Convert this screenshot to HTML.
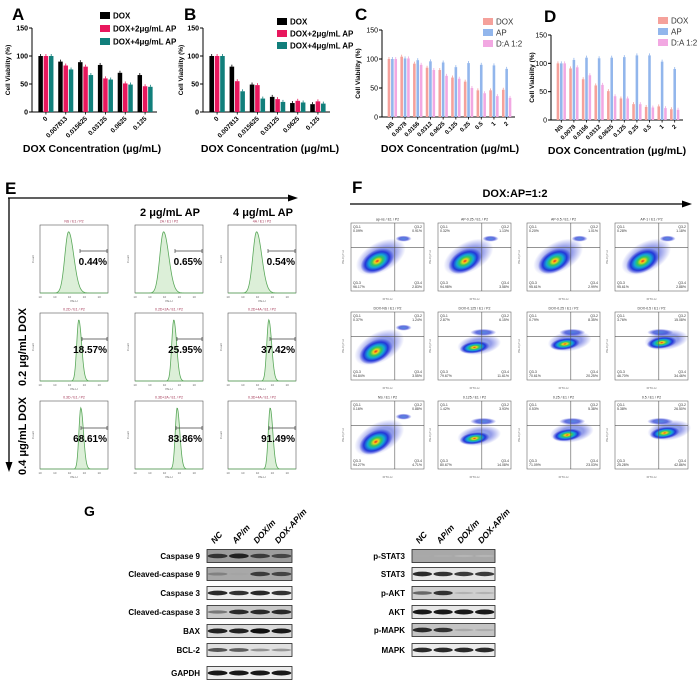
<!DOCTYPE html>
<html><head><meta charset="utf-8"><style>
html,body{margin:0;padding:0;background:#fff}
svg{display:block;font-family:"Liberation Sans",sans-serif}
</style></head><body>
<svg id="fig" width="700" height="685" viewBox="0 0 700 685" xmlns="http://www.w3.org/2000/svg"></svg>
<script>
// ---- data ----
const catsAB = ["0","0.007813","0.015625","0.03125","0.0625","0.125"];
const seriesAB = ["DOX","DOX+2μg/mL AP","DOX+4μg/mL AP"];
const aDox = [100,90,89,84,70,66];
const aAp2 = [100,83,81,60,51,46];
const aAp4 = [100,76,66,58,49,45];
const bDox = [100,81,49,27,16,14];
const bAp2 = [100,55,48,23,20,19];
const bAp4 = [100,37,24,18,17,15];
const catsCD = ["NS","0.0078","0.0156","0.0312","0.0625","0.125","0.25","0.5","1","2"];
const seriesCD = ["DOX","AP","D:A 1:2"];
const cDox = [100,104,92,85,81,68,61,46,46,47];
const cAp = [100,101,98,96,94,86,93,90,89,83];
const cDA = [100,101,90,81,71,66,50,41,36,33];
const dDox = [100,91,72,61,51,38,28,23,24,19];
const dAp = [100,106,110,109,110,111,114,114,103,90];
const dDA = [100,93,79,62,42,38,28,22,21,18];
const yTicks = [0,50,100,150];
const histPct = [["0.44%","0.65%","0.54%"],["18.57%","25.95%","37.42%"],["68.61%","83.86%","91.49%"]];
const histTitles = [["NS / E1 / P2","2A / E1 / P2","4A / E1 / P2"],["0.2D / E1 / P2","0.2D+2A / E1 / P2","0.2D+4A / E1 / P2"],["0.3D / E1 / P2","0.3D+2A / E1 / P2","0.3D+4A / E1 / P2"]];
const histPeak = [[0.42,0.42,0.42],[0.57,0.57,0.6],[0.6,0.62,0.62]];
const histSig = [[0.055,0.055,0.055],[0.03,0.03,0.03],[0.028,0.028,0.028]];
const flowTitles = [["ap-ns / E1 / P2","AP-0.25 / E1 / P2","AP-0.5 / E1 / P2","AP-1 / E1 / P2"],["DOX-NS / E1 / P2","DOX-0.125 / E1 / P2","DOX-0.25 / E1 / P2","DOX-0.5 / E1 / P2"],["NS / E1 / P2","0.125 / E1 / P2","0.25 / E1 / P2","0.5 / E1 / P2"]];
const flowQ = [[["0.09%","0.91%","96.17%","2.83%"],["0.32%","1.13%","94.98%","3.58%"],["0.20%","1.01%","95.61%","2.99%"],["0.28%","1.18%","95.61%","2.88%"]],
 [["0.37%","1.24%","94.84%","3.55%"],["2.87%","6.15%","79.67%","11.61%"],["0.79%","8.35%","70.61%","20.25%"],["3.76%","15.08%","46.70%","34.46%"]],
 [["0.16%","0.88%","94.27%","4.71%"],["1.42%","3.93%","80.67%","14.08%"],["0.53%","5.38%","71.09%","23.03%"],["5.38%","26.50%","25.28%","42.86%"]]];
const flowBlobX = [[0.36,0.37,0.38,0.38],[0.34,0.5,0.52,0.64],[0.34,0.5,0.55,0.68]];
const flowBlobY = [[0.56,0.56,0.56,0.56],[0.58,0.52,0.47,0.45],[0.6,0.55,0.5,0.47]];
const blotLeft = ["Caspase 9","Cleaved-caspase 9","Caspase 3","Cleaved-caspase 3","BAX","BCL-2","GAPDH"];
const blotRight = ["p-STAT3","STAT3","p-AKT","AKT","p-MAPK","MAPK"];
const lanes = ["NC","AP/m","DOX/m","DOX-AP/m"];
const intLeft = [[0.8,0.9,0.75,0.7],[0.35,0.15,0.75,0.7],[0.85,0.8,0.85,0.8],[0.4,0.85,0.85,0.85],[0.9,0.9,1,0.95],[0.6,0.55,0.25,0.22],[0.95,0.95,0.95,0.95]];
const intRight = [[0.12,0.1,0.05,0.05],[0.85,0.8,0.75,0.75],[0.5,0.8,0.07,0.07],[0.95,0.95,0.95,0.95],[0.85,0.8,0.12,0.1],[0.85,0.85,0.85,0.85]];
const bgLeft = ["#9c9c9c","#a8a8a8","#ededed","#c8c8c8","#dadada","#e0e0e0","#ececec"];
const bgRight = ["#a8a8a8","#e6e6e6","#cfcfcf","#e6e6e6","#c4c4c4","#ececec"];

// ---- helpers ----
const NS = "http://www.w3.org/2000/svg";
const svg = document.getElementById("fig");
function mk(tag, attrs, parent){
  const e = document.createElementNS(NS, tag);
  for (const k in attrs) e.setAttribute(k, attrs[k]);
  (parent||svg).appendChild(e);
  return e;
}
function txt(s, attrs, parent){ const e = mk("text", attrs, parent); e.textContent = s; return e; }

function letter(s, x, y, size){
  const t = txt(s, {x:x, y:y, "font-size":size||17, "font-weight":"bold"});
  
  
}

function barChart(id, cfg){
  const g = mk("g", {});
  
  
  const {x0,x1,yT,yB,cats,series,colors,names,bold,fs} = cfg;
  const yS = v => yB - v/150*(yB-yT);
  const gw = (x1-x0-6)/cats.length;
  const xC = i => x0 + 4 + gw*(i+0.5);
  const bw = gw*0.8/series.length;
  const ax = mk("path", {d:`M${x0},${yT} L${x0},${yB} L${x1},${yB}`, fill:"none", stroke:"#000", "stroke-width":1}, g);
  
  
  yTicks.forEach(v=>{
    const y = yS(v);
    mk("line",{x1:x0-3,x2:x0,y1:y,y2:y,stroke:"#000","stroke-width":1},g);
    const t = txt(String(v), {x:x0-4, y:y+2.5, "font-size":7, "text-anchor":"end", "font-weight":bold?"bold":"normal"}, g);
    
    
  });
  cats.forEach((c,i)=>{
    const x = xC(i);
    mk("line",{x1:x,x2:x,y1:yB,y2:yB+2.5,stroke:"#000","stroke-width":0.8},g);
    const t = txt(c, {x:x+2, y:yB+7, "font-size":fs, "text-anchor":"end", "font-weight":"bold", transform:`rotate(-45 ${x+2} ${yB+7})`}, g);
    
    
  });
  series.forEach((arr,s)=>{
    arr.forEach((v,i)=>{
      const bx = xC(i) - gw*0.4 + s*bw;
      const r = mk("rect",{x:bx+0.4, y:yS(v), width:bw-0.8, height:yB-yS(v), fill:colors[s]}, g);
      
      
      const e = mk("line",{x1:bx+bw/2,x2:bx+bw/2,y1:yS(v)-2,y2:yS(v),stroke:colors[s],"stroke-width":0.8},g);
      
      
    });
  });
  names.forEach((n,s)=>{
    const ly = cfg.ly[s];
    const r = mk("rect",{x:cfg.lx, y:ly-4, width:10, height:7, fill:colors[s]}, g);
    
    
    const t = txt(n,{x:cfg.lx+13, y:ly+2.5, "font-size":8, "font-weight":bold?"bold":"normal", fill:bold?"#000":"#333"}, g);
    
    
  });
  const yt = txt("Cell Viability (%)", {x:cfg.yx, y:(yT+yB)/2, "font-size":6.5, "font-weight":"bold", "text-anchor":"middle", transform:`rotate(-90 ${cfg.yx} ${(yT+yB)/2})`}, g);
  
  
  const xt = txt("DOX Concentration (μg/mL)", {x:cfg.tx, y:cfg.ty, "font-size":10.5, "font-weight":"bold", "text-anchor":"middle"}, g);
  
  
}

// ---- panels A-D ----
letter("A", 12, 20); letter("B", 184, 20); letter("C", 355, 20); letter("D", 544, 22);
const c1 = ["#000","#e8175d","#117f7b"];
const c2 = ["#f5a19b","#92b6ec","#f2a8e2"];
barChart("panel-a",{x0:32,x1:157,yT:28,yB:112,cats:catsAB,series:[aDox,aAp2,aAp4],colors:c1,names:seriesAB,bold:true,fs:6.5,lx:100,ly:[16,29,42],yx:10,tx:92,ty:152});
barChart("panel-b",{x0:203,x1:330,yT:28,yB:112,cats:catsAB,series:[bDox,bAp2,bAp4],colors:c1,names:seriesAB,bold:true,fs:6.5,lx:277,ly:[22,34,46],yx:183,tx:270,ty:152});
barChart("panel-c",{x0:382,x1:515,yT:30,yB:117,cats:catsCD,series:[cDox,cAp,cDA],colors:c2,names:seriesCD,bold:false,fs:6,lx:483,ly:[22,33,44],yx:360,tx:450,ty:152});
barChart("panel-d",{x0:551,x1:683,yT:35,yB:120,cats:catsCD,series:[dDox,dAp,dDA],colors:c2,names:seriesCD,bold:false,fs:6,lx:658,ly:[21,32,43],yx:534,tx:617,ty:154});

// ---- arrows ----
function arrow(x1,y1,x2,y2,name){
  const g = mk("g",{});
  
  
  mk("line",{x1:x1,y1:y1,x2:x2,y2:y2,stroke:"#000","stroke-width":1.3},g);
  const horiz = y1===y2;
  const p = horiz ? `${x2+6},${y2} ${x2-4},${y2-3.5} ${x2-4},${y2+3.5}` : `${x2},${y2+6} ${x2-3.5},${y2-4} ${x2+3.5},${y2-4}`;
  mk("polygon",{points:p, fill:"#000"},g);
}

// ---- panel E ----
letter("E", 5, 194);
arrow(8,198,292,198,"panel-e-horizontal-arrow");
arrow(9,198,9,466,"panel-e-vertical-arrow");
[["2 μg/mL AP",170],["4 μg/mL AP",263]].forEach(([s,x])=>{
  const t = txt(s,{x:x,y:216,"font-size":11,"font-weight":"bold","text-anchor":"middle"});
  
  
});
[["0.2 μg/mL DOX",347],["0.4 μg/mL DOX",436]].forEach(([s,y])=>{
  const t = txt(s,{x:26,y:y,"font-size":11,"font-weight":"bold","text-anchor":"middle",transform:`rotate(-90 26 ${y})`});
  
  
});
const eCols = [40,135,228], eRows = [225,313,401], eW = 68, eH = 68;
for (let r=0;r<3;r++) for (let c=0;c<3;c++){
  const x0 = eCols[c], y0 = eRows[r];
  const g = mk("g",{});
  
  
  mk("rect",{x:x0,y:y0,width:eW,height:eH,fill:"none",stroke:"#555","stroke-width":0.6},g);
  const tt = txt(histTitles[r][c],{x:x0+eW/2,y:y0-2.5,"font-size":3.5,"text-anchor":"middle",fill:"#a03050"},g);
  
  
  let d = `M${x0},${y0+eH}`;
  const pk = histPeak[r][c], sg = histSig[r][c];
  for (let k=0;k<=120;k++){
    const u = k/120;
    const z = (u-pk)/(u<pk?sg:sg*1.4);
    const y = y0+eH - (eH*0.9)*Math.exp(-z*z/2);
    d += ` L${(x0+u*eW).toFixed(2)},${y.toFixed(2)}`;
  }
  d += ` L${x0+eW},${y0+eH} Z`;
  const p = mk("path",{d:d,fill:"#dcefd8",stroke:"#5aa85a","stroke-width":0.8},g);
  
  
  const gy = y0 + [26,26,27][r], gx1 = x0 + [40,42,41][r], gx2 = x0+eW-1;
  mk("path",{d:`M${gx1},${gy-2} V${gy+2} M${gx1},${gy} H${gx2} M${gx2},${gy-2} V${gy+2}`,stroke:"#444","stroke-width":0.7,fill:"none"},g);
  const pt = txt(histPct[r][c],{x:x0+eW-1,y:gy+14,"font-size":10,"font-weight":"bold","text-anchor":"end"},g);
  
  
  [0,1,2,3,4].forEach(k=>{ txt("10",{x:x0+k*eW/4.6,y:y0+eH+5,"font-size":3,"text-anchor":"middle",fill:"#666"},g); });
  txt("PE-H",{x:x0+eW/2,y:y0+eH+9,"font-size":3,"text-anchor":"middle",fill:"#666"},g);
  txt("Count",{x:x0-6,y:y0+eH/2,"font-size":3,"text-anchor":"middle",fill:"#666",transform:`rotate(-90 ${x0-6} ${y0+eH/2})`},g);
}

// ---- panel F ----
letter("F", 352, 193);
const ft = txt("DOX:AP=1:2",{x:515,y:197,"font-size":11,"font-weight":"bold","text-anchor":"middle"});


arrow(350,204,686,204,"panel-f-arrow");
const defs = mk("defs",{});
const rg = mk("radialGradient",{id:"dens"},defs);
[["0","#e8261c"],["0.15","#f6d21a"],["0.32","#34c85a"],["0.5","#14a6d8"],["0.72","#2236d8"],["1","rgba(40,50,220,0)"]].forEach(([o,c])=>mk("stop",{offset:o,"stop-color":c},rg));
const rg2 = mk("radialGradient",{id:"dens2"},defs);
[["0","#2a6bd8"],["0.55","#3a4ad6"],["1","rgba(60,70,220,0)"]].forEach(([o,c])=>mk("stop",{offset:o,"stop-color":c},rg2));
const fCols = [351,438,527,615], fRows = [223,312,401], fW = 73, fH = 68;
for (let r=0;r<3;r++) for (let c=0;c<4;c++){
  const x0 = fCols[c], y0 = fRows[r];
  const g = mk("g",{});
  
  
  mk("rect",{x:x0,y:y0,width:fW,height:fH,fill:"#fff",stroke:"#666","stroke-width":0.6},g);
  const bx = x0+flowBlobX[r][c]*fW, by = y0+flowBlobY[r][c]*fH;
  const elong = (r===0||c===0);
  const ang = elong ? -28 : -8;
  mk("ellipse",{cx:bx+5,cy:by-2,rx:elong?27:22,ry:elong?15:10,fill:"url(#dens2)",opacity:0.55,transform:`rotate(${ang} ${bx} ${by})`},g);
  const bl = mk("ellipse",{cx:bx,cy:by,rx:elong?18:15,ry:elong?11:6,fill:"url(#dens)",transform:`rotate(${ang} ${bx} ${by})`},g);
  
  
  const ux = x0+(elong?0.72:0.62)*fW, uy = y0+(elong?0.23:0.3)*fH;
  mk("ellipse",{cx:ux,cy:uy,rx:elong?8:13,ry:elong?3:3.5,fill:"url(#dens2)",opacity:0.8},g);
  mk("line",{x1:x0+0.6*fW,x2:x0+0.6*fW,y1:y0,y2:y0+fH,stroke:"#555","stroke-width":0.6},g);
  mk("line",{x1:x0,x2:x0+fW,y1:y0+0.36*fH,y2:y0+0.36*fH,stroke:"#555","stroke-width":0.6},g);
  const q = flowQ[r][c];
  [[x0+2,y0+5,"start","Q3-1",q[0]],[x0+fW-2,y0+5,"end","Q3-2",q[1]],[x0+2,y0+fH-7,"start","Q3-3",q[2]],[x0+fW-2,y0+fH-7,"end","Q3-4",q[3]]].forEach(([x,y,a,n,v])=>{
    txt(n,{x:x,y:y,"font-size":3.5,"text-anchor":a,fill:"#333"},g);
    const qt = txt(v,{x:x,y:y+4,"font-size":3.5,"text-anchor":a,fill:"#333"},g);
    
    
  });
  txt(flowTitles[r][c],{x:x0+fW/2,y:y0-2.5,"font-size":3.5,"text-anchor":"middle",fill:"#333"},g);
  txt("FITC-H",{x:x0+fW/2,y:y0+fH+9,"font-size":3,"text-anchor":"middle",fill:"#666"},g);
  txt("PE-Cy7-H",{x:x0-7,y:y0+fH/2,"font-size":3,"text-anchor":"middle",fill:"#666",transform:`rotate(-90 ${x0-7} ${y0+fH/2})`},g);
}

// ---- panel G ----
letter("G", 84, 516, 14);
function blots(names, ints, bgs, bx, bw, ys, lx, id){
  const g = mk("g",{});
  
  
  lanes.forEach((l,i)=>{
    const x = bx + bw*(i+0.5)/4 - 3, y = 544;
    const t = txt(l,{x:x,y:y,"font-size":8.5,"font-weight":"bold","font-style":"italic",transform:`rotate(-48 ${x} ${y})`},g);
    
    
  });
  names.forEach((n,k)=>{
    const y = ys[k];
    const t = txt(n,{x:lx,y:y+3,"font-size":8,"font-weight":"bold","text-anchor":"end"},g);
    
    
    const r = mk("rect",{x:bx,y:y-6.5,width:bw,height:13,fill:bgs[k],stroke:"#222","stroke-width":0.8},g);
    
    
    ints[k].forEach((v,i)=>{
      const cx = bx + bw*(i+0.5)/4;
      const shade = Math.round(190 - v*175);
      const b = mk("ellipse",{cx:cx,cy:y,rx:bw/8.6,ry:1+v*1.6,fill:`rgb(${shade},${shade},${shade})`},g);
      
      
    });
  });
}
blots(blotLeft,intLeft,bgLeft,207,85,[556,574,593,612,631,650,673],200,"western-blot-left");
blots(blotRight,intRight,bgRight,412,83,[556,574,593,612,630,650],405,"western-blot-right");
</script>
</body></html>
